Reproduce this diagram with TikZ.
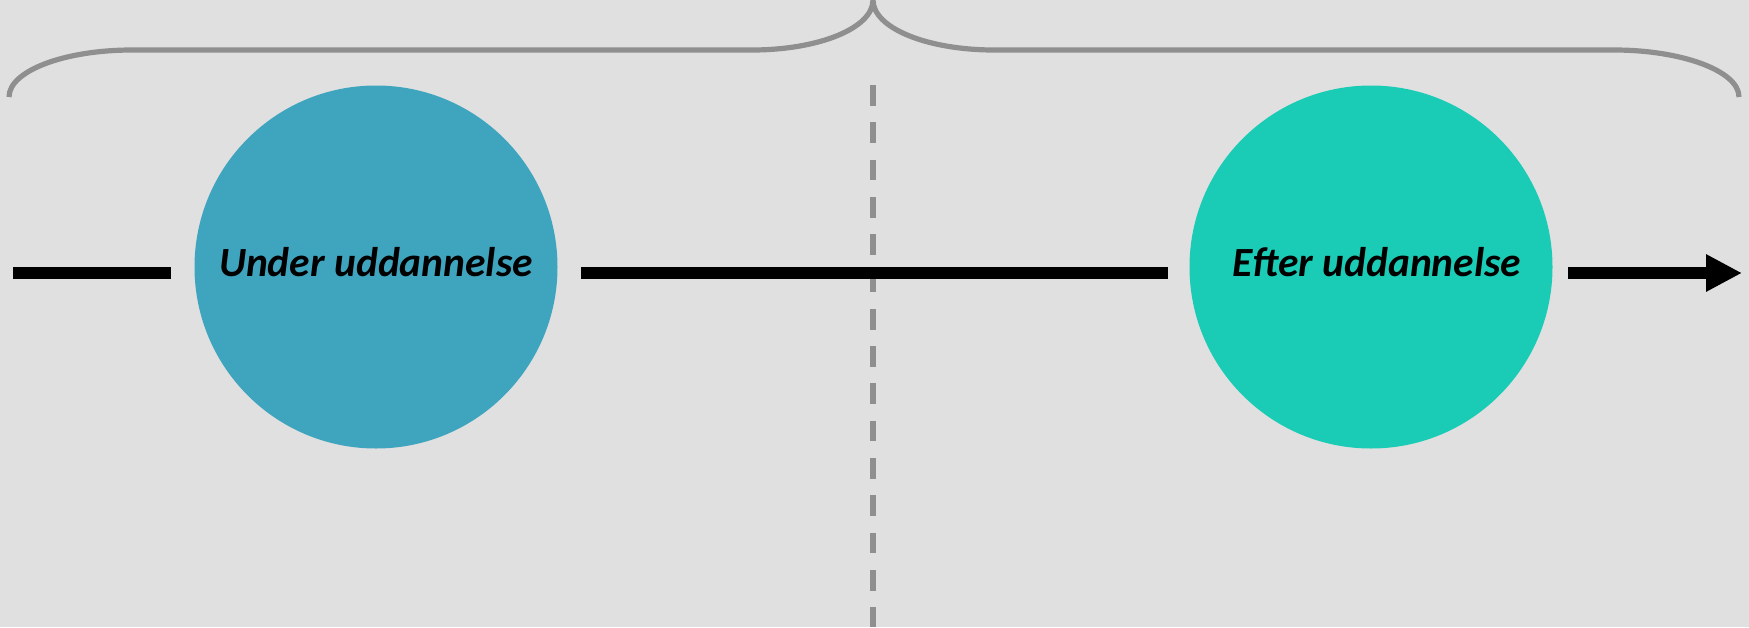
\documentclass[tikz,border=0pt]{standalone}
\usepackage{fontspec}
\setmainfont{Carlito}
\usetikzlibrary{arrows.meta}
\definecolor{bg}{HTML}{E0E0E0}
\definecolor{bracegray}{HTML}{8F8F8F}
\definecolor{circA}{HTML}{3FA5BF}
\definecolor{circB}{HTML}{1ACCB5}
\tikzset{
  phase/.style={circle, draw=none, minimum size=363pt, inner sep=0pt,
    font=\fontsize{41.5}{50}\selectfont\bfseries\itshape, text height=18pt, text depth=0pt},
  timeline/.style={line width=12pt, black},
  bracestyle/.style={line width=5.2pt, draw=bracegray},
  divider/.style={line width=5.5pt, draw=bracegray, dash pattern=on 20.7pt off 16.6pt}
}
\begin{document}
\begin{tikzpicture}[x=1pt,y=-1pt]
\fill[bg] (0,0) rectangle (1749,627);
\useasboundingbox (0,0) rectangle (1749,627);
% divider
\coordinate (dtop) at (873,85);
\coordinate (dbot) at (873,627);
\draw[divider] (dtop) -- (dbot);
% brace
\coordinate (bl) at (9,97);
\coordinate (bm) at (873,0);
\coordinate (br) at (1739,97);
\draw[bracestyle] (bl) .. controls (9,71) and (64,50) .. (132,50) -- (752,50)
  .. controls (819,50) and (873,28) .. (bm)
  .. controls (873,28) and (927,50) .. (994,50) -- (1614,50)
  .. controls (1682,50) and (1739,71) .. (br);
% circles
\node[phase, fill=circA] (under) at (376,267) {Under uddannelse};
\node[phase, fill=circB] (efter) at (1371,267) {\hspace*{12pt}Efter uddannelse};
% timeline
\coordinate (t0) at (13,273);
\coordinate (t1) at (171,273);
\coordinate (t2) at (581,273);
\coordinate (t3) at (1168,273);
\coordinate (t4) at (1568,273);
\coordinate (t5) at (1742,273);
\draw[timeline] (t0) -- (t1);
\draw[timeline] (t2) -- (t3);
\draw[timeline, -{Triangle[length=36pt,width=35pt]}] (t4) -- (t5);
\end{tikzpicture}
\end{document}
